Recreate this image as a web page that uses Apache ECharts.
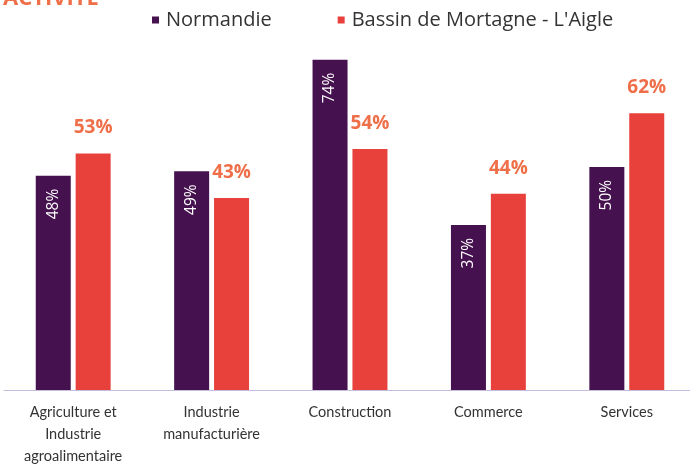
<!DOCTYPE html>
<html>
<head>
<meta charset="utf-8">
<script src="https://cdn.jsdelivr.net/npm/echarts@6/dist/echarts.min.js"></script>
<style>
  html, body { margin: 0; padding: 0; background: #fff; }
  #chart { width: 690px; height: 465px; }
</style>
</head>
<body>
<div id="chart"></div>
<script>
// secteurs d'activité
const categories = ["Agriculture et\nIndustrie\nagroalimentaire", "Industrie\nmanufacturière", "Construction", "Commerce", "Services"];
const normandie = [48, 49, 74, 37, 50];
const bassin = [53, 43, 54, 44, 62];
const seriesNames = ["Normandie", "Bassin de Mortagne - L'Aigle"];

const font = "'Open Sans', Lato, sans-serif";
const narrow = "Lato, 'Open Sans', sans-serif";
const chart = echarts.init(document.getElementById("chart"));

chart.setOption({
  animation: false,
  textStyle: { fontFamily: font },
  title: {
    text: "ACTIVITÉ",
    left: -2,
    top: -17,
    textStyle: { color: "#ef6f49", fontSize: 22, fontWeight: "bold", fontFamily: font },
  },
  legend: {
    left: 147,
    top: 5,
    itemWidth: 7,
    itemHeight: 7,
    itemGap: 66,
    icon: "rect",
    textStyle: { fontSize: 20, color: "#333", fontFamily: font, padding: [0, 0, 0, 2] },
    data: seriesNames,
  },
  grid: { left: 4, right: -6, top: 33, bottom: 75, outerBoundsMode: "none" },
  xAxis: {
    type: "category",
    data: categories,
    axisLine: { lineStyle: { color: "#c4bddd", width: 1 } },
    axisTick: { length: 6, lineStyle: { color: "#c4bddd" } },
    axisLabel: { fontSize: 14.5, color: "#333", lineHeight: 22, margin: 11, interval: 0, fontFamily: narrow },
  },
  yAxis: {
    type: "value",
    min: 0,
    max: 80,
    show: false,
    splitLine: { show: false },
  },
  series: [
    {
      name: seriesNames[0],
      type: "bar",
      data: normandie,
      barWidth: 35,
      barGap: "14%",
      itemStyle: { color: "#46114f" },
      label: {
        show: true,
        position: "insideTop",
        distance: 13,
        rotate: 90,
        align: "right",
        verticalAlign: "middle",
        formatter: "{c}%",
        color: "#fff",
        fontSize: 15.5,
        fontFamily: font,
      },
    },
    {
      name: seriesNames[1],
      type: "bar",
      data: bassin,
      barWidth: 35,
      itemStyle: { color: "#e8413c" },
      label: {
        show: true,
        position: "top",
        distance: 16,
        formatter: "{c}%",
        color: "#ef6f49",
        fontSize: 19,
        fontWeight: "bold",
        fontFamily: font,
      },
    },
  ],
});
</script>
</body>
</html>
